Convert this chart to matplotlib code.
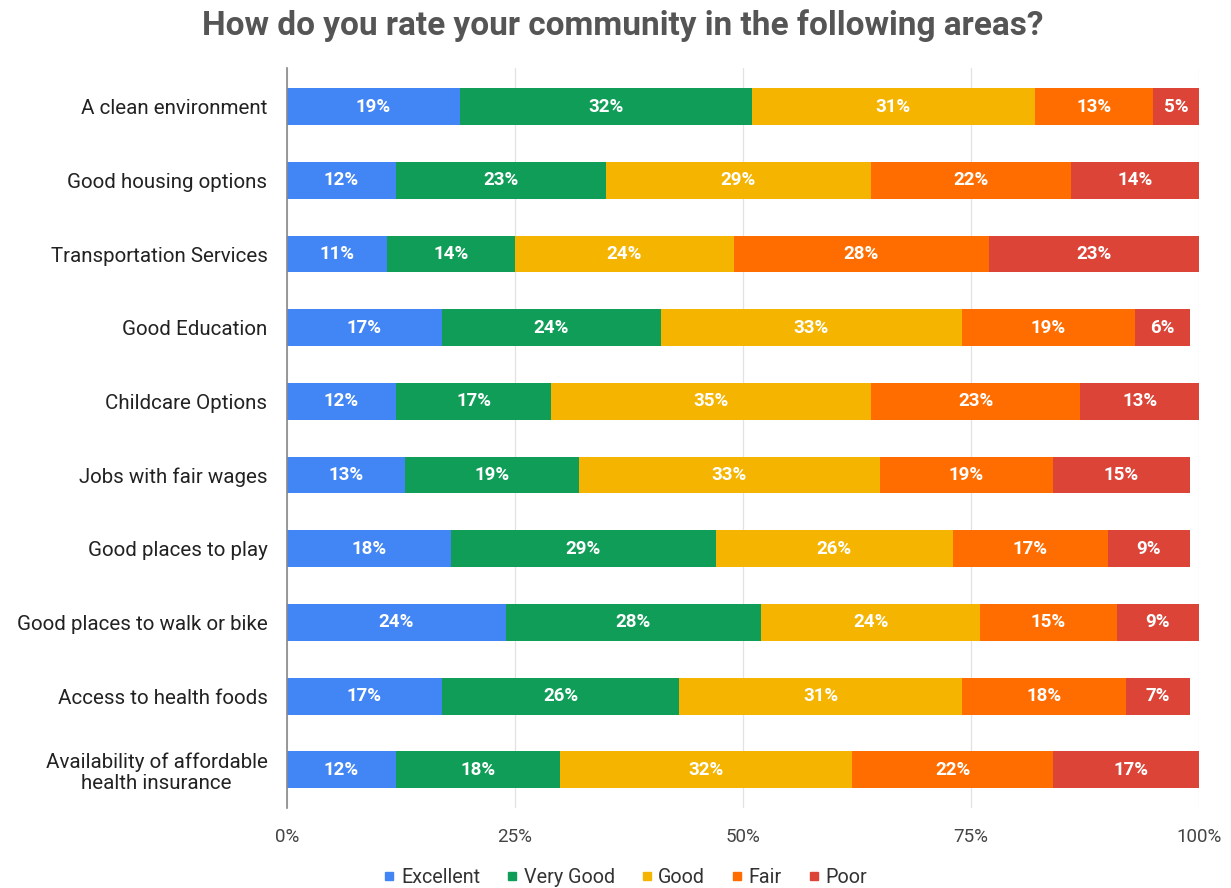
import matplotlib
matplotlib.use("Agg")
import matplotlib.pyplot as plt
from matplotlib.lines import Line2D
import numpy as np

plt.rcParams['font.family'] = ['Roboto', 'DejaVu Sans']

categories = [
    "A clean environment",
    "Good housing options",
    "Transportation Services",
    "Good Education",
    "Childcare Options",
    "Jobs with fair wages",
    "Good places to play",
    "Good places to walk or bike",
    "Access to health foods",
    "Availability of affordable\nhealth insurance",
]
series_names = ["Excellent", "Very Good", "Good", "Fair", "Poor"]
excellent = [19, 12, 11, 17, 12, 13, 18, 24, 17, 12]
very_good = [32, 23, 14, 24, 17, 19, 29, 28, 26, 18]
good      = [31, 29, 24, 33, 35, 33, 26, 24, 31, 32]
fair      = [13, 22, 28, 19, 23, 19, 17, 15, 18, 22]
poor      = [5, 14, 23, 6, 13, 15, 9, 9, 7, 17]
x_ticks = [0, 25, 50, 75, 100]
x_tick_labels = ["0%", "25%", "50%", "75%", "100%"]

colors = ["#4285F4", "#0F9D58", "#F4B400", "#FF6D00", "#DB4437"]

fig = plt.figure(figsize=(12.31, 8.88), dpi=100)
ax = fig.add_axes([0.233, 0.090, 0.741, 0.833])

y = np.arange(len(categories))
left = np.zeros(len(categories))
for name, vals, col in zip(series_names, [excellent, very_good, good, fair, poor], colors):
    vals = np.array(vals, dtype=float)
    ax.barh(y, vals, left=left, height=0.5, color=col, label=name, zorder=3)
    for yi, (l, v) in enumerate(zip(left, vals)):
        ax.text(l + v / 2, yi, f"{int(v)}%", ha="center", va="center",
                color="white", fontsize=13.5, fontweight="bold", zorder=4)
    left += vals

ax.set_xlim(0, 100)
ax.set_ylim(len(categories) - 0.48, -0.52)
ax.set_yticks(y)
ax.set_yticklabels(categories, fontsize=14.8, color="#222222", linespacing=1.15)
for lbl in ax.get_yticklabels():
    lbl.set_multialignment("center")
ax.set_xticks(x_ticks)
ax.set_xticklabels(x_tick_labels, fontsize=13.5, color="#444444")
ax.tick_params(axis="both", length=0)
ax.tick_params(axis="y", pad=14)
ax.tick_params(axis="x", pad=14)
ax.grid(axis="x", color="#E2E2E2", linewidth=0.9, zorder=0)
for s in ["top", "right", "bottom"]:
    ax.spines[s].set_visible(False)
ax.spines["left"].set_color("#888888")
ax.spines["left"].set_linewidth(1.2)
ax.spines["left"].set_zorder(5)

fig.suptitle("How do you rate your community in the following areas?",
             x=0.506, y=0.990, fontsize=24, fontweight="bold", color="#555555")

handles = [Line2D([0], [0], marker="s", linestyle="none", markersize=6,
                  markerfacecolor=c, markeredgecolor=c) for c in colors]
fig.legend(handles, series_names, loc="center", bbox_to_anchor=(0.508, 0.012),
           ncol=5, frameon=False, fontsize=14.2, handlelength=0.6,
           handletextpad=0.3, columnspacing=1.3, labelcolor="#333333")

fig.savefig("out.png", dpi=100)
